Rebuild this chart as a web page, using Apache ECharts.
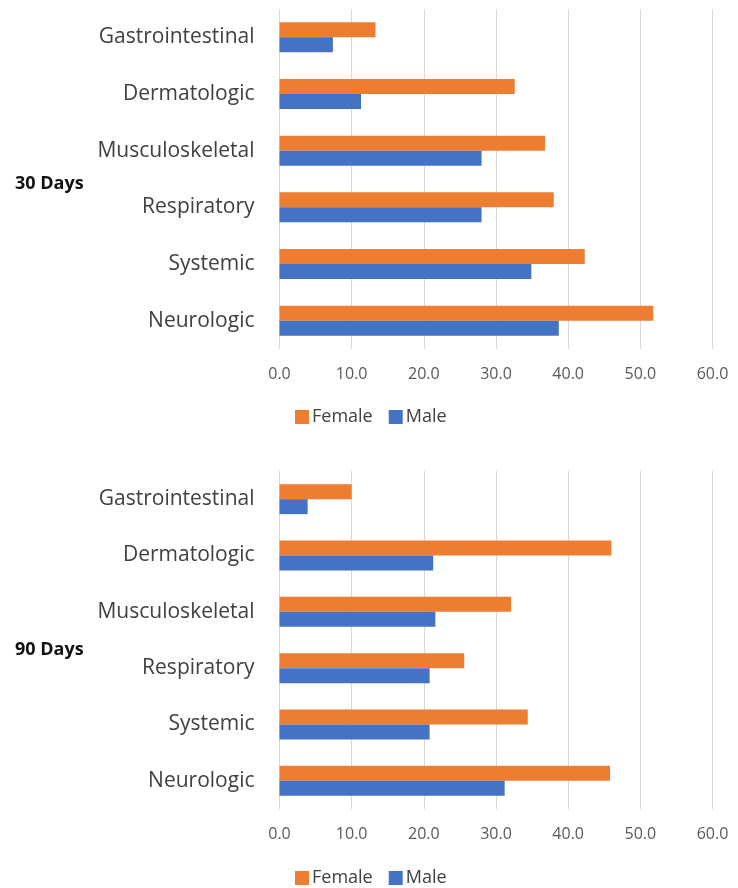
<!DOCTYPE html>
<html>
<head>
<meta charset="utf-8">
<script src="https://cdn.jsdelivr.net/npm/echarts@6/dist/echarts.min.js"></script>
<style>
  html, body { margin: 0; padding: 0; background: #fff; }
  #chart { width: 738px; height: 888px; }
</style>
</head>
<body>
<div id="chart"></div>
<script>
// Symptom categories, listed bottom-to-top along the category axis
const categories = ['Neurologic', 'Systemic', 'Respiratory', 'Musculoskeletal', 'Dermatologic', 'Gastrointestinal'];

// 30 days
const female30 = [51.8, 42.3, 38.0, 36.8, 32.6, 13.3];
const male30   = [38.7, 34.9, 28.0, 28.0, 11.3, 7.4];

// 90 days
const female90 = [45.8, 34.4, 25.6, 32.1, 46.0, 10.0];
const male90   = [31.2, 20.8, 20.8, 21.6, 21.3, 3.9];

const xTicks = { min: 0, max: 60, interval: 10 };
const panelTitles = ['30 Days', '90 Days'];

const ORANGE = '#ED7D31';
const BLUE = '#4472C4';
const FONT = 'Open Sans';

const chart = echarts.init(document.getElementById('chart'), null, { renderer: 'canvas' });

function xAxisFor(gridIndex) {
  return {
    type: 'value', gridIndex,
    min: xTicks.min, max: xTicks.max, interval: xTicks.interval,
    axisLine: { show: false }, axisTick: { show: false },
    splitLine: { show: true, lineStyle: { color: '#d9d9d9', width: 1 } },
    axisLabel: {
      formatter: v => v.toFixed(1), color: '#595959',
      fontFamily: FONT, fontSize: 16, margin: 17
    }
  };
}
function yAxisFor(gridIndex) {
  return {
    type: 'category', gridIndex, data: categories,
    axisLine: { show: false }, axisTick: { show: false },
    axisLabel: { color: '#404040', fontFamily: FONT, fontSize: 21, margin: 25 }
  };
}
function barSeries(name, data, color, idx) {
  return {
    name, type: 'bar', data, xAxisIndex: idx, yAxisIndex: idx,
    barWidth: 15, barGap: '0%',
    itemStyle: { color }
  };
}
function legendFor(top) {
  return {
    top, left: 290, itemWidth: 14, itemHeight: 14, itemGap: 16,
    icon: 'rect', data: ['Female', 'Male'],
    textStyle: { color: '#404040', fontFamily: FONT, fontSize: 18, padding: [0, 0, 0, -2] }
  };
}
function titleFor(text, top) {
  return {
    text, left: 10, top,
    textStyle: { fontFamily: FONT, fontSize: 18, fontWeight: 'bold', color: '#111' }
  };
}

chart.setOption({
  animation: false,
  backgroundColor: '#fff',
  title: [titleFor(panelTitles[0], 170), titleFor(panelTitles[1], 636)],
  legend: [legendFor(403), legendFor(864)],
  grid: [
    { left: 279.5, right: 25.5, top: 9, height: 340 },
    { left: 279.5, right: 25.5, top: 471, height: 338 }
  ],
  xAxis: [xAxisFor(0), xAxisFor(1)],
  yAxis: [yAxisFor(0), yAxisFor(1)],
  series: [
    barSeries('Female', female30, ORANGE, 0),
    barSeries('Male', male30, BLUE, 0),
    barSeries('Female', female90, ORANGE, 1),
    barSeries('Male', male90, BLUE, 1)
  ]
});
</script>
</body>
</html>
